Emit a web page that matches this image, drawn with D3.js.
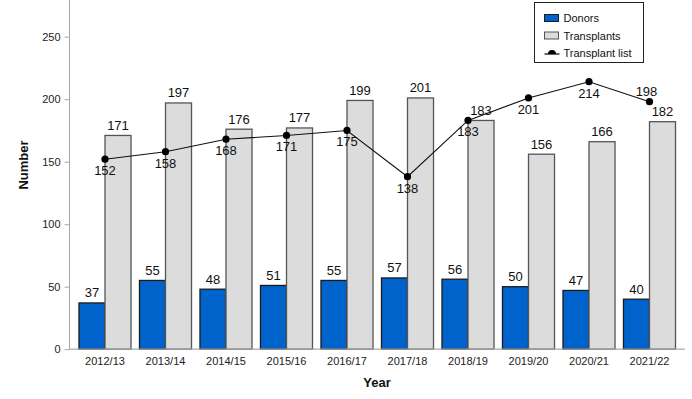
<!DOCTYPE html>
<html>
<head>
<meta charset="utf-8">
<script src="https://cdn.jsdelivr.net/npm/d3@7"></script>
<style>
  body { margin: 0; background: #fff; }
  svg { display: block; font-family: "Liberation Sans", Arial, sans-serif; }
</style>
</head>
<body>
<svg id="chart" width="692" height="399"></svg>
<script>
const years = ['2012/13', '2013/14', '2014/15', '2015/16', '2016/17',
               '2017/18', '2018/19', '2019/20', '2020/21', '2021/22'];
const donors = [37, 55, 48, 51, 55, 57, 56, 50, 47, 40];
const transplants = [171, 197, 176, 177, 199, 201, 183, 156, 166, 182];
const transplantList = [152, 158, 168, 171, 175, 138, 183, 201, 214, 198];
const yTicks = [0, 50, 100, 150, 200, 250];
const legendLabels = ['Donors', 'Transplants', 'Transplant list'];

const svg = d3.select('#chart');
const donorColor = '#0063cc';
const transplantColor = '#dcdcdc';
const axisColor = '#a8a8a8';

const x = d3.scaleBand()
    .domain(years)
    .range([74.75, 679.75])
    .paddingInner(0.14)
    .paddingOuter(0.07);

const y = d3.scaleLinear()
    .domain([0, 280])
    .range([349.2, -0.8]);

const half = x.bandwidth() / 2;

// y axis
const yAxis = svg.append('g')
    .attr('transform', 'translate(69.5,0)')
    .call(d3.axisLeft(y).tickValues(yTicks).tickSize(5).tickPadding(4));
yAxis.select('.domain').remove();
yAxis.append('line')
    .attr('y1', 0).attr('y2', y(0))
    .attr('stroke', axisColor);
yAxis.selectAll('.tick line').attr('stroke', axisColor);
yAxis.selectAll('.tick text')
    .attr('fill', '#222')
    .style('font-size', '11px')
    .style('font-family', '"Liberation Sans", Arial, sans-serif');

// bars
const groups = svg.append('g')
    .selectAll('g')
    .data(years)
    .join('g')
    .attr('transform', d => `translate(${x(d)},0)`);

groups.append('rect')
    .attr('x', 0)
    .attr('width', half)
    .attr('y', (d, i) => y(donors[i]))
    .attr('height', (d, i) => y(0) - y(donors[i]))
    .attr('fill', donorColor)
    .attr('stroke', '#1c1c1c')
    .attr('stroke-width', 1.3);

groups.append('rect')
    .attr('x', half)
    .attr('width', half)
    .attr('y', (d, i) => y(transplants[i]))
    .attr('height', (d, i) => y(0) - y(transplants[i]))
    .attr('fill', transplantColor)
    .attr('stroke', '#555')
    .attr('stroke-width', 1.3);

groups.append('text')
    .attr('x', half / 2)
    .attr('y', (d, i) => y(donors[i]) - 5.5)
    .attr('text-anchor', 'middle')
    .style('font-size', '13px')
    .attr('fill', '#111')
    .text((d, i) => donors[i]);

groups.append('text')
    .attr('x', half * 1.5)
    .attr('y', (d, i) => y(transplants[i]) - 5.5)
    .attr('text-anchor', 'middle')
    .style('font-size', '13px')
    .attr('fill', '#111')
    .text((d, i) => transplants[i]);

// x axis
const xAxis = svg.append('g')
    .attr('transform', `translate(0,${y(0)})`);
xAxis.append('line')
    .attr('x1', 69).attr('x2', 685)
    .attr('stroke', axisColor)
    .attr('stroke-width', 1.2);
xAxis.selectAll('text')
    .data(years)
    .join('text')
    .attr('x', d => x(d) + half)
    .attr('y', 16)
    .attr('text-anchor', 'middle')
    .style('font-size', '11px')
    .attr('fill', '#222')
    .text(d => d);

// transplant list line
const line = d3.line()
    .x((d, i) => x(years[i]) + half)
    .y(d => y(d));

svg.append('path')
    .datum(transplantList)
    .attr('d', line)
    .attr('fill', 'none')
    .attr('stroke', '#111')
    .attr('stroke-width', 1.1);

svg.append('g')
    .selectAll('circle')
    .data(transplantList)
    .join('circle')
    .attr('cx', (d, i) => x(years[i]) + half)
    .attr('cy', d => y(d))
    .attr('r', 3.6)
    .attr('fill', '#000');

svg.append('g')
    .selectAll('text')
    .data(transplantList)
    .join('text')
    .attr('x', (d, i) => x(years[i]) + half + (i === transplantList.length - 1 ? -3 : 0))
    .attr('y', (d, i) => i === transplantList.length - 1 ? y(d) - 6 : y(d) + 16)
    .attr('text-anchor', 'middle')
    .style('font-size', '13px')
    .attr('fill', '#111')
    .text(d => d);

// axis titles
svg.append('text')
    .attr('transform', 'translate(27.5,165) rotate(-90)')
    .attr('text-anchor', 'middle')
    .style('font-size', '13px')
    .style('font-weight', 'bold')
    .attr('fill', '#111')
    .text('Number');

svg.append('text')
    .attr('x', 377)
    .attr('y', 387)
    .attr('text-anchor', 'middle')
    .style('font-size', '13px')
    .style('font-weight', 'bold')
    .attr('fill', '#111')
    .text('Year');

// legend
const legend = svg.append('g').attr('transform', 'translate(534.5,2.5)');
legend.append('rect')
    .attr('width', 109)
    .attr('height', 60)
    .attr('fill', '#fff')
    .attr('stroke', '#222');

const items = legend.selectAll('g.item')
    .data(legendLabels)
    .join('g')
    .attr('class', 'item')
    .attr('transform', (d, i) => `translate(10,${15.5 + i * 17.5})`);

items.filter((d, i) => i < 2)
    .append('rect')
    .attr('x', 0)
    .attr('y', -3.5)
    .attr('width', 14)
    .attr('height', 7)
    .attr('fill', (d, i) => i === 0 ? donorColor : transplantColor)
    .attr('stroke', (d, i) => i === 0 ? '#1c1c1c' : '#555');

const marker = items.filter((d, i) => i === 2);
marker.append('path')
    .attr('d', 'M3.5,1 A4,4 0 0 1 11.5,1 Z')
    .attr('fill', '#000');
marker.append('line')
    .attr('x1', 0).attr('x2', 15)
    .attr('y1', 1).attr('y2', 1)
    .attr('stroke', '#000')
    .attr('stroke-width', 1.2);

items.append('text')
    .attr('x', 19)
    .attr('y', 4)
    .style('font-size', '11px')
    .attr('fill', '#111')
    .text(d => d);
</script>
</body>
</html>
